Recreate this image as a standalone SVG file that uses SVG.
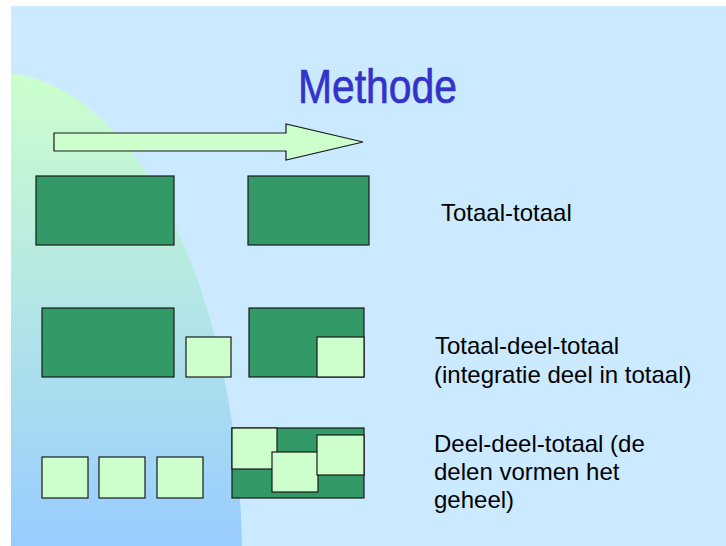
<svg xmlns="http://www.w3.org/2000/svg" width="726" height="546" viewBox="0 0 726 546">
  <defs>
    <linearGradient id="hillFill" gradientUnits="userSpaceOnUse" x1="0" y1="73" x2="0" y2="546">
      <stop offset="0" stop-color="#ccffcc"/>
      <stop offset="1" stop-color="#99ccff"/>
    </linearGradient>
    <clipPath id="slideClip">
      <rect x="11" y="6" width="715" height="540"/>
    </clipPath>
  </defs>
  <style>
    .dark { fill: #339966; stroke: #1a1a1a; stroke-width: 1.2; }
    .light { fill: #ccffcc; stroke: #1a1a1a; stroke-width: 1.2; }
    .label { font-family: "Liberation Sans", Arial, sans-serif; font-size: 24px; fill: #000000; }
    .title { font-family: "Liberation Sans", Arial, sans-serif; font-size: 49px; fill: #3333cc; stroke: #3333cc; stroke-width: 0.7; }
  </style>

  <!-- page margin and slide background -->
  <rect x="0" y="0" width="726" height="546" fill="#ffffff"/>
  <rect x="11" y="6" width="715" height="540" fill="#cceaff"/>

  <!-- soft curved backdrop on the left -->
  <g clip-path="url(#slideClip)">
    <ellipse cx="-2" cy="560" rx="244" ry="487" fill="url(#hillFill)"/>
  </g>

  <!-- title -->
  <text class="title" x="298" y="103" textLength="159" lengthAdjust="spacingAndGlyphs">Methode</text>

  <!-- direction arrow -->
  <g id="arrow">
    <path class="light" d="M54,133 H286 V124 L363,142 L286,160 V151 H54 Z"/>
  </g>

  <!-- row 1: whole to whole -->
  <g id="row1-left">
    <rect class="dark" x="36" y="176" width="138" height="69"/>
  </g>
  <g id="row1-right">
    <rect class="dark" x="248" y="176" width="121" height="69"/>
  </g>
  <g id="row1-label">
    <text class="label" x="441" y="221">Totaal-totaal</text>
  </g>

  <!-- row 2: whole, part, whole with part integrated -->
  <g id="row2-left">
    <rect class="dark" x="42" y="308" width="132" height="69"/>
  </g>
  <g id="row2-part">
    <rect class="light" x="186" y="337" width="45" height="40"/>
  </g>
  <g id="row2-right">
    <rect class="dark" x="249" y="308" width="115" height="69"/>
    <rect class="light" x="317" y="337" width="47" height="40"/>
  </g>
  <g id="row2-label">
    <text class="label" x="435" y="354">Totaal-deel-totaal</text>
    <text class="label" x="434" y="383">(integratie deel in totaal)</text>
  </g>

  <!-- row 3: parts forming the whole -->
  <g id="row3-part1">
    <rect class="light" x="42" y="457" width="46" height="41"/>
  </g>
  <g id="row3-part2">
    <rect class="light" x="99" y="457" width="46" height="41"/>
  </g>
  <g id="row3-part3">
    <rect class="light" x="157" y="457" width="46" height="41"/>
  </g>
  <g id="row3-right">
    <rect class="dark" x="232" y="428" width="132" height="70"/>
    <rect class="light" x="232" y="428" width="45" height="41"/>
    <rect class="light" x="272" y="452" width="46" height="40"/>
    <rect class="light" x="317" y="435" width="47" height="40"/>
  </g>
  <g id="row3-label">
    <text class="label" x="434" y="452">Deel-deel-totaal (de</text>
    <text class="label" x="434" y="480">delen vormen het</text>
    <text class="label" x="434" y="508">geheel)</text>
  </g>
</svg>
